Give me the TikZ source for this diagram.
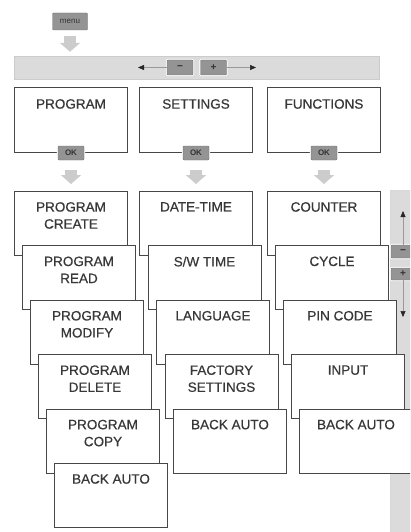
\documentclass[tikz,border=0pt]{standalone}
\usepackage{fontspec}
\setmainfont{Liberation Sans}
\newfontfamily\labelfont[FakeBold=0.5]{Liberation Sans}
\usetikzlibrary{arrows.meta,positioning}
\definecolor{band}{gray}{0.86}
\definecolor{key}{gray}{0.58}
\definecolor{frame}{gray}{0.28}
\definecolor{ink}{gray}{0.22}
\definecolor{hint}{gray}{0.80}

\begin{document}
\begin{tikzpicture}[
  x=1pt,y=-1pt,
  font=\labelfont\fontsize{13.5}{17}\selectfont,
  screen/.style={draw=frame,line width=1pt,fill=white,inner sep=0pt,
                 minimum width=113pt,minimum height=64pt,anchor=north west},
  caption/.style={anchor=north,inner sep=0pt,align=center,text=ink},
  key/.style={draw=black!55,fill=key,rounded corners=1pt,inner sep=0pt,text=black!80,
              font=\fontsize{8}{8}\selectfont\bfseries,
              preaction={draw=white,line width=2.4pt}},
  sign/.style={key,font=\fontsize{10}{10}\selectfont\bfseries},
  flow/.style={line width=12pt,hint,-{Triangle[length=9pt,width=20pt]}},
  dir/.style={line width=0.5pt,black!40,-{Triangle[length=6pt,width=5pt,color=black!85]}},
]
\path[use as bounding box,clip] (0,0) rectangle (410,532);

% ---- menu key and selector band ----
\node[key,minimum width=35pt,minimum height=17pt,
      font=\fontsize{8}{8}\selectfont] (menu) at (70,21.5) {menu};
\node[draw=black!20,fill=band,inner sep=0pt,
      minimum width=365pt,minimum height=23pt] (band) at (196.5,67.5) {};
\draw[flow,shorten <=6pt,shorten >=4pt] (menu.south) -- (menu.south |- band.north);

\node[sign,minimum width=26pt,minimum height=15pt] (bminus) at (180,67.5) {−};
\node[sign,minimum width=26pt,minimum height=15pt] (bplus) at (213.5,67.5) {+};
\coordinate (bleft) at (138,67.5);
\coordinate (bright) at (256,67.5);
\draw[dir] (bminus.west) -- (bleft);
\draw[dir] (bplus.east) -- (bright);

% ---- scroll bar (behind the lists) ----
\node[fill=band,draw=black!15,inner sep=0pt,anchor=north west,
      minimum width=24pt,minimum height=345pt] (bar) at (390,190) {};
\node[sign,minimum width=24pt,minimum height=13pt] (sminus) at (403,251.5) {−};
\node[sign,minimum width=24pt,minimum height=12pt] (splus) at (403,274) {+};
\coordinate (btop) at (403,211);
\coordinate (bbot) at (403,317);
\draw[dir] (sminus.north) -- (btop);
\draw[dir] (splus.south) -- (bbot);

% ---- top level screens ----
\foreach \n/\x/\t in {prog/14/PROGRAM, sett/139/SETTINGS, func/267/FUNCTIONS}{
  \node[screen,minimum height=65pt] (\n) at (\x,87) {};
  \node[caption] (\n-t) at ([yshift=-12pt]\n.north) {\t};
  \node[key,minimum width=26pt,minimum height=14pt] (ok-\n) at (\n.south) {OK};
}

% ---- sub menus, stacked ----
\foreach \t [count=\i from 0] in {PROGRAM\\CREATE,PROGRAM\\READ,PROGRAM\\MODIFY,
                                  PROGRAM\\DELETE,PROGRAM\\COPY,BACK AUTO}{
  \node[screen] (pr\i) at (14+8*\i,191+54.4*\i) {};
  \node[caption] (pr\i-t) at ([yshift=-11pt]pr\i.north) {\t};
}
\foreach \t [count=\i from 0] in {DATE-TIME,S/W TIME,LANGUAGE,FACTORY\\SETTINGS,BACK AUTO}{
  \node[screen] (se\i) at (139+8.5*\i,191+54.4*\i) {};
  \node[caption] (se\i-t) at ([yshift=-11pt]se\i.north) {\t};
}
\foreach \t [count=\i from 0] in {COUNTER,CYCLE,PIN CODE,INPUT,BACK AUTO}{
  \node[screen] (fu\i) at (267+8*\i,191+54.4*\i) {};
  \node[caption] (fu\i-t) at ([yshift=-11pt]fu\i.north) {\t};
}

% ---- OK leads into each list ----
\draw[flow,shorten <=10pt,shorten >=7pt] (ok-prog.south) -- (ok-prog.south |- pr0.north);
\draw[flow,shorten <=10pt,shorten >=7pt] (ok-sett.south) -- (ok-sett.south |- se0.north);
\draw[flow,shorten <=10pt,shorten >=7pt] (ok-func.south) -- (ok-func.south |- fu0.north);

\end{tikzpicture}
\end{document}
